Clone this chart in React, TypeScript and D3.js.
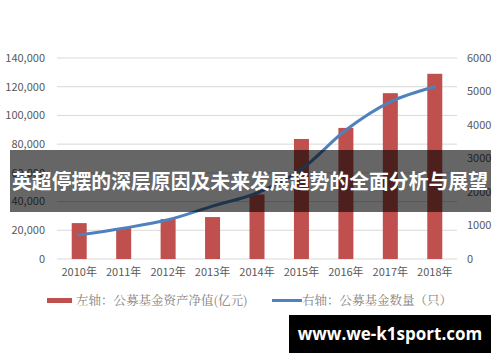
import * as d3 from "d3";

const years = ["2010年", "2011年", "2012年", "2013年", "2014年", "2015年", "2016年", "2017年", "2018年"];
const netAssets = [25000, 21500, 27800, 29200, 45000, 83600, 91300, 115500, 129000];
const fundCount = [720, 920, 1170, 1580, 1970, 2680, 3850, 4690, 5140];
const leftTicks = [0, 20000, 40000, 60000, 80000, 100000, 120000, 140000];
const rightTicks = [0, 1000, 2000, 3000, 4000, 5000, 6000];
const legendLeft = "左轴：公募基金资产净值(亿元)";
const legendRight = "右轴：公募基金数量（只）";
const title = "英超停摆的深层原因及未来发展趋势的全面分析与展望";
const site = "www.we-k1sport.com";

const W = 500;
const H = 362;
const margin = { top: 58, bottom: 103, left: 57, right: 43 };

export default function App() {
  const plotW = W - margin.left - margin.right;
  const plotH = H - margin.top - margin.bottom;

  const x = d3.scaleBand().domain(years).range([margin.left, margin.left + plotW]);
  const yL = d3.scaleLinear().domain([0, 140000]).range([margin.top + plotH, margin.top]);
  const yR = d3.scaleLinear().domain([0, 6000]).range([margin.top + plotH, margin.top]);
  const barW = 15;
  const cx = (d: string) => (x(d) as number) + x.bandwidth() / 2;

  const line = d3
    .line<number>()
    .x((_, i) => cx(years[i]))
    .y((d) => yR(d))
    .curve(d3.curveCatmullRom.alpha(0.5));

  const fmt = d3.format(",");
  const textCol = "#595959";
  const sans = "'Noto Sans CJK SC', 'DejaVu Sans', sans-serif";
  const serif = "'Noto Serif CJK SC', 'Noto Sans CJK SC', serif";

  return (
    <svg width={W} height={H} style={{ position: "absolute", left: 0, top: 0, background: "#fff" }}>
      {leftTicks.map((t) => (
        <line key={"g" + t} x1={margin.left} x2={margin.left + plotW} y1={yL(t)} y2={yL(t)} stroke="#d9d9d9" strokeWidth={1} />
      ))}
      {leftTicks.map((t) => (
        <text key={"l" + t} x={45} y={yL(t)} dy="0.35em" textAnchor="end" fontSize={11} fill={textCol} fontFamily={sans}>
          {fmt(t)}
        </text>
      ))}
      {rightTicks.map((t) => (
        <text key={"r" + t} x={467} y={yR(t)} dy="0.35em" textAnchor="start" fontSize={11} fill={textCol} fontFamily={sans}>
          {t}
        </text>
      ))}
      {years.map((d, i) => (
        <rect key={"b" + d} x={cx(d) - barW / 2} y={yL(netAssets[i])} width={barW} height={yL(0) - yL(netAssets[i])} fill="#c0504d" />
      ))}
      <path d={line(fundCount) as string} fill="none" stroke="#4f81bd" strokeWidth={3} strokeLinecap="round" />
      {years.map((d) => (
        <text key={"x" + d} x={cx(d)} y={276} textAnchor="middle" fontSize={11} fill={textCol} fontFamily={sans}>
          {d}
        </text>
      ))}
      <rect x={47} y={298} width={25} height={5} fill="#c0504d" />
      <text x={76} y={305} fontSize={12.5} fill="#7f7f7f" fontFamily={serif}>
        {legendLeft}
      </text>
      <line x1={272} x2={302} y1={300.5} y2={300.5} stroke="#4f81bd" strokeWidth={3} />
      <text x={302} y={305} fontSize={12.5} fill="#7f7f7f" fontFamily={serif}>
        {legendRight}
      </text>
      <rect x={10} y={150} width={481} height={62} fill="rgba(0,0,0,0.6)" />
      <text x={250} y={182} dy="0.35em" textAnchor="middle" fontSize={20} fontWeight="bold" fill="#fff" fontFamily={sans}
        textLength={476} lengthAdjust="spacingAndGlyphs">
        {title}
      </text>
      <rect x={289} y={315} width={202} height={38} fill="#000" />
      <text x={390} y={334} dy="0.35em" textAnchor="middle" fontSize={17} fontWeight="bold" fill="#fff" fontFamily="'Open Sans', 'DejaVu Sans', sans-serif">
        {site}
      </text>
    </svg>
  );
}
